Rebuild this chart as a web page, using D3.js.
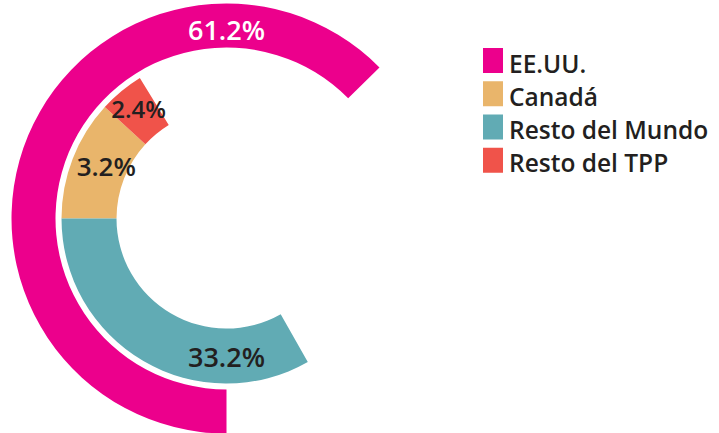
<!DOCTYPE html>
<html>
<head>
<meta charset="utf-8">
<script src="https://cdn.jsdelivr.net/npm/d3@7"></script>
<style>
  html, body { margin: 0; padding: 0; background: #fff; }
  svg { display: block; }
  text { font-family: "Open Sans", "Noto Sans", sans-serif; }
</style>
</head>
<body>
<svg id="chart" width="719" height="433"></svg>
<script>
// ---- data ----
const categories = ["EE.UU.", "Canadá", "Resto del Mundo", "Resto del TPP"];
const values = [61.2, 3.2, 33.2, 2.4];          // labelled percentages
const drawnShare = [62.6, 11.8, 33.2, 4.4];     // share of the circle each arc sweeps in the picture
const ring = ["outer", "inner", "inner", "inner"];
const colors = ["#EC008C", "#E9B56B", "#61ABB4", "#F0534A"];
const labelColors = ["#ffffff", "#231f20", "#231f20", "#231f20"];

const svg = d3.select("#chart");
const cx = 226.5, cy = 218.5;
const g = svg.append("g").attr("transform", `translate(${cx},${cy})`);

const angle = d3.scaleLinear().domain([0, 100]).range([0, 2 * Math.PI]);
const radii = { outer: [171, 215], inner: [110, 165] };

// outer ring: starts at 6 o'clock, clockwise
const outerStart = angle(50);
// inner ring: anchored at 9 o'clock; Resto del Mundo sweeps backwards, others forward
const innerAnchor = angle(75);

const items = categories.map((c, i) => ({ c, v: values[i], share: drawnShare[i], ring: ring[i], color: colors[i], lc: labelColors[i] }));

const usa = items[0];
usa.start = outerStart; usa.end = outerStart + angle(usa.share);
const rdm = items[2];
rdm.end = innerAnchor; rdm.start = innerAnchor - angle(rdm.share);
const can = items[1];
can.start = innerAnchor; can.end = innerAnchor + angle(can.share);
const tpp = items[3];
tpp.start = can.end; tpp.end = tpp.start + angle(tpp.share);

const arc = d3.arc();
g.selectAll("path.slice").data(items).join("path")
  .attr("class", "slice")
  .attr("fill", d => d.color)
  .attr("d", d => arc({ innerRadius: radii[d.ring][0], outerRadius: radii[d.ring][1], startAngle: d.start, endAngle: d.end }));

// labels
const fmt = v => d3.format(".1f")(v) + "%";
const labelSpec = [
  { a: angle(100), r: 189, size: 27 },   // EE.UU. at top
  { a: angle(81.5), r: 131, size: 26 },  // Canadá
  { a: angle(50), r: 138, size: 27 },    // Resto del Mundo
  { a: angle(89.3), r: 141, size: 24 }   // Resto del TPP
];
g.selectAll("text.val").data(items).join("text")
  .attr("class", "val")
  .attr("x", (d, i) => labelSpec[i].r * Math.sin(labelSpec[i].a))
  .attr("y", (d, i) => -labelSpec[i].r * Math.cos(labelSpec[i].a))
  .attr("text-anchor", "middle")
  .attr("dominant-baseline", "central")
  .attr("font-size", (d, i) => labelSpec[i].size)
  .attr("font-weight", 600)
  .attr("fill", d => d.lc)
  .text(d => fmt(d.v));

// legend
const legend = svg.append("g").attr("transform", "translate(483,48)");
const ly = d3.scaleBand().domain(categories).range([0, 133]).paddingInner(0);
const lg = legend.selectAll("g").data(items).join("g")
  .attr("transform", d => `translate(0,${ly(d.c)})`);
lg.append("rect").attr("width", 20).attr("height", 25).attr("fill", d => d.color);
lg.append("text")
  .attr("x", 26).attr("y", 24.5)
  .attr("font-size", 24.5).attr("font-weight", 600)
  .attr("fill", "#231f20")
  .text(d => d.c);
</script>
</body>
</html>
